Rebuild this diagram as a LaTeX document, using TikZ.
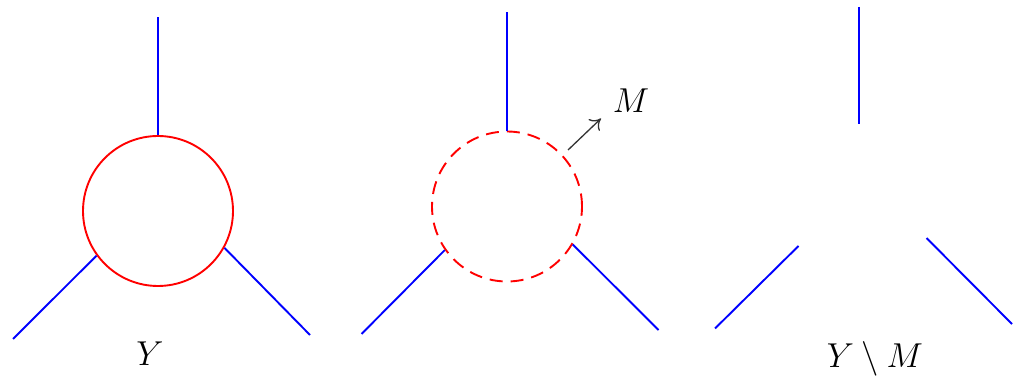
\documentclass[tikz,border=0pt]{standalone}
\usetikzlibrary{arrows.meta}
\begin{document}
\begin{tikzpicture}[x=0.5pt,y=-0.5pt,
  leg/.style={blue, line width=0.95pt},
  ring/.style={circle, draw=red, line width=0.95pt, minimum size=75pt, inner sep=0pt},
  dashring/.style={ring, dash pattern=on 6.5pt off 4pt},
  lbl/.style={anchor=base, inner sep=0pt, font=\fontsize{18}{20}\selectfont},
  pointer/.style={black!80, line width=0.65pt, -{To[length=5pt,width=8pt]}}]
\useasboundingbox (0,0) rectangle (1013,379);
% diagram 1
\node[ring] (c1) at (158,211) {};
\coordinate (t1) at (158,17);
\coordinate (l1) at (13,339);
\coordinate (r1) at (310,335);
\draw[leg] (c1.90) -- (t1);
\draw[leg] (c1.216) -- (l1);
\draw[leg] (c1.331) -- (r1);
\node[lbl] (y1) at (150,366) {$Y$};
% diagram 2
\node[dashring] (c2) at (507,206.5) {};
\coordinate (t2) at (507,12);
\coordinate (l2) at (361.5,334);
\coordinate (r2) at (658.5,330);
\draw[leg] (c2.90) -- (t2);
\draw[leg] (c2.215.5) -- (l2);
\draw[leg] (c2.330) -- (r2);
\coordinate (a0) at (568,150);
\coordinate (a1) at (601,118.5);
\draw[pointer] (a0) -- (a1);
\node[lbl] (m2) at (631,112.5) {$M$};
% diagram 3
\coordinate (t3a) at (859,7);
\coordinate (t3b) at (859,124);
\coordinate (l3a) at (798.5,246);
\coordinate (l3b) at (715,328.5);
\coordinate (r3a) at (926.5,238);
\coordinate (r3b) at (1012,324);
\draw[leg] (t3a) -- (t3b);
\draw[leg] (l3a) -- (l3b);
\draw[leg] (r3a) -- (r3b);
\node[lbl] (ym) at (875,368) {$Y\setminus M$};
\end{tikzpicture}
\end{document}
